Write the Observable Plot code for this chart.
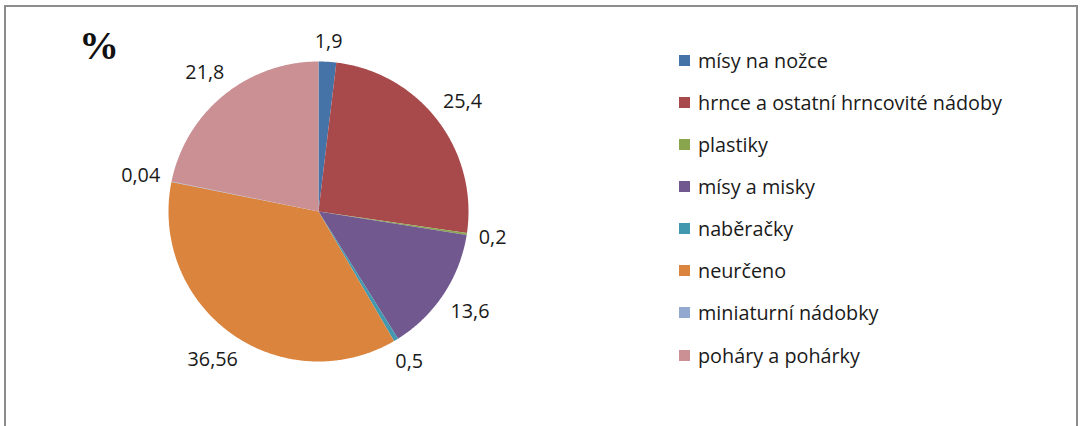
<!DOCTYPE html>
<html><head><meta charset="utf-8">
<script src="https://cdn.jsdelivr.net/npm/d3@7"></script>
<script src="https://cdn.jsdelivr.net/npm/@observablehq/plot@0.6"></script>
<style>
body{margin:0;background:#fff;}
#wrap{position:relative;width:1083px;height:426px;overflow:hidden;font-family:"Open Sans",sans-serif;color:#1a1a1a;}
#frame{position:absolute;left:4px;top:5px;width:1074px;height:460px;border:2px solid #8c8c8c;box-sizing:border-box;}
#chart{position:absolute;left:0;top:0;}
#pct{position:absolute;left:79px;top:22px;font-family:"Liberation Serif",serif;font-weight:bold;font-size:40px;color:#111;}
#legend{position:absolute;left:679px;top:39px;font-size:19.8px;}
.item{height:42.15px;display:flex;align-items:center;white-space:nowrap;}
.sw{width:11px;height:11px;margin-right:8px;flex:none;}
</style></head>
<body>
<div id="wrap">
  <div id="frame"></div>
  <div id="chart"></div>
  <div id="pct">%</div>
  <div id="legend"></div>
</div>
<script>
const categories = ["mísy na nožce","hrnce a ostatní hrncovité nádoby","plastiky","mísy a misky","naběračky","neurčeno","miniaturní nádobky","poháry a pohárky"];
const values = [1.9, 25.4, 0.2, 13.6, 0.5, 36.56, 0.04, 21.8];
const colors = ["#4572A7","#A84A4B","#89A54E","#71588F","#4198AF","#DB843D","#93A9CF","#CA9093"];

const total = d3.sum(values);
const poly = [];
const labels = [];
let acc = 0;
values.forEach((v, i) => {
  const a0 = acc / total * 2 * Math.PI;
  acc += v;
  const a1 = acc / total * 2 * Math.PI;
  const n = Math.max(2, Math.ceil((a1 - a0) / (Math.PI / 360)));
  poly.push({cat: categories[i], x: 0, y: 0});
  for (let k = 0; k <= n; k++) {
    const a = a0 + (a1 - a0) * k / n;
    poly.push({cat: categories[i], x: Math.sin(a), y: Math.cos(a)});
  }
  const am = (a0 + a1) / 2;
  const txt = String(v).replace(".", ",");
  const w = txt.length * 10, h = 18;
  const r = (160 + Math.abs(Math.sin(am)) * w / 2 + Math.abs(Math.cos(am)) * h / 2) / 150;
  labels.push({cat: categories[i], text: txt, x: r * Math.sin(am), y: r * Math.cos(am)});
});

const plot = Plot.plot({
  width: 1083, height: 426,
  style: {background: "transparent", fontFamily: "'Open Sans', sans-serif"},
  x: {domain: [-1, 1], range: [168, 468], axis: null},
  y: {domain: [-1, 1], range: [361, 61], axis: null},
  color: {domain: categories, range: colors},
  marks: [
    Plot.line(poly, {x: "x", y: "y", z: "cat", fill: "cat", stroke: null, curve: "linear-closed"}),
    Plot.text(labels, {x: "x", y: "y", text: "text", fontSize: 19.8, fill: "#1a1a1a", textAnchor: "middle"})
  ]
});
document.getElementById("chart").appendChild(plot);

const leg = document.getElementById("legend");
categories.forEach((c, i) => {
  const d = document.createElement("div");
  d.className = "item";
  d.innerHTML = `<span class="sw" style="background:${colors[i]}"></span><span>${c}</span>`;
  leg.appendChild(d);
});
</script>
</body></html>
